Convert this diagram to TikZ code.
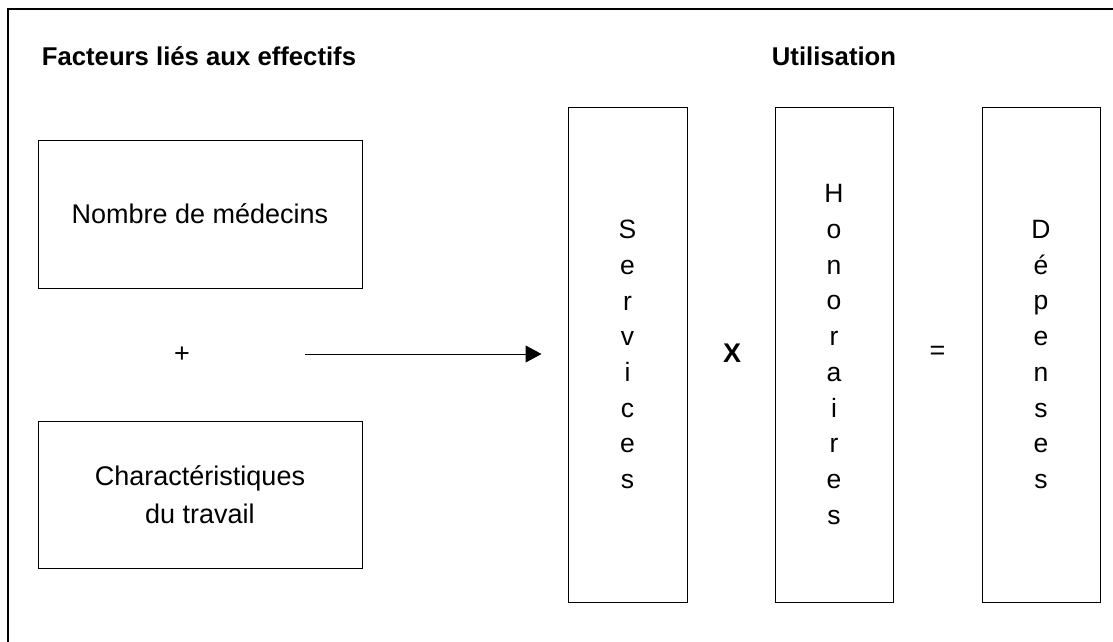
\documentclass[tikz,border=0pt]{standalone}
\usepackage{fontspec}
\setmainfont{Liberation Sans}
\usepackage{tikz}
\usetikzlibrary{arrows.meta, positioning}

\begin{document}
\begin{tikzpicture}[x=1pt, y=-1pt,
            factbox/.style={draw, line width=1pt, minimum width=324pt, minimum height=148pt, align=center, font=\fontsize{27}{38}\selectfont},
            colbox/.style={draw, line width=1pt, minimum width=118pt, minimum height=495pt, align=center, font=\fontsize{26.5}{35.7}\selectfont},
            heading/.style={anchor=base, font=\fontsize{25.7}{30}\selectfont\bfseries},
            opsign/.style={font=\fontsize{27}{30}\selectfont},
            arrow/.style={-{Triangle[length=16pt, width=17pt]}, line width=1pt}
        ]
        \useasboundingbox (0,0) rectangle (1113,642);
        % --- frame ---
        \draw[line width=2.7pt] (8,650) -- (8,9) -- (1120,9);

        % --- Facteurs liés aux effectifs ---
        \node[heading] (hfact) at (199,66) {Facteurs liés aux effectifs};
        \node[factbox] (nomb) at (200,214) {Nombre de médecins};
        \node[opsign] (plus) at (182,355) {+};
        \node[factbox, minimum height=147pt] (carac) at (200,494.5) {Charactéristiques\\du travail};

        % --- Utilisation ---
        \node[heading] (hutil) at (834,66) {Utilisation};
        \node[colbox, minimum width=119pt] (serv) at (627.5,354.5) {S\\e\\r\\v\\i\\c\\e\\s};
        \node[opsign, font=\fontsize{27}{30}\selectfont\bfseries] (fois) at (732,353) {X};
        \node[colbox] (hono) at (834,354.5) {H\\o\\n\\o\\r\\a\\i\\r\\e\\s};
        \node[opsign] (egal) at (937.5,353) {=};
        \node[colbox] (dep) at (1041,354.5) {D\\é\\p\\e\\n\\s\\e\\s};

        \coordinate (start) at (305,354);
        \draw[arrow, shorten >=26pt] (start) -- (serv.west |- start);
        \end{tikzpicture}
\end{document}
